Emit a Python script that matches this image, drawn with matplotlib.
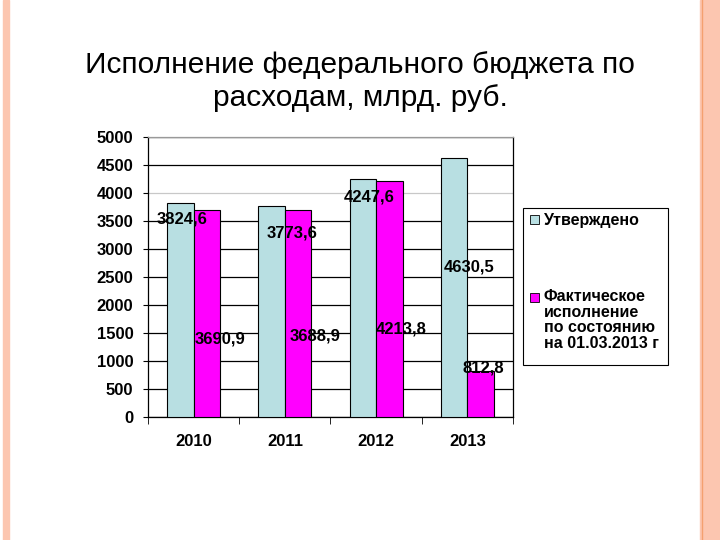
import matplotlib
matplotlib.use("Agg")
import matplotlib.pyplot as plt
from matplotlib.patches import Rectangle
import numpy as np

plt.rcParams["font.family"] = ["Liberation Sans", "DejaVu Sans"]

YEARS    = ["2010", "2011", "2012", "2013"]
APPROVED = [3824.6, 3773.6, 4247.6, 4630.5]
ACTUAL   = [3690.9, 3688.9, 4213.8, 812.8]
LABELS_APPROVED = ["3824,6", "3773,6", "4247,6", "4630,5"]
LABELS_ACTUAL   = ["3690,9", "3688,9", "4213,8", "812,8"]

C_APPROVED = "#b8dfe2"
C_ACTUAL   = "#ff00ff"

# label placement as on the original slide (x offset from category, y in data units)
POS_APPROVED = [(-0.13, 3540), (0.075, 3280), (-0.075, 3920), (0.02, 2685)]
POS_ACTUAL   = [(0.29, 1390), (0.33, 1445), (0.28, 1565), (0.17, 870)]

fig = plt.figure(figsize=(7.2, 5.4), dpi=100)
W, H = 720, 540

# slide border decoration
fig.patches.append(Rectangle((3 / W, 0), 6 / W, 1, transform=fig.transFigure,
                             color="#fcc6b0", zorder=0))
fig.patches.append(Rectangle((700 / W, 0), 20 / W, 1, transform=fig.transFigure,
                             color="#fcc6b0", zorder=0))
fig.add_artist(plt.Line2D([702 / W, 702 / W], [0, 1], color="#f4a070", lw=1))

fig.text(0.5, 1 - 65 / H, "Исполнение федерального бюджета по", ha="center",
         va="center", fontsize=21.5)
fig.text(0.5, 1 - 98 / H, "расходам, млрд. руб.", ha="center",
         va="center", fontsize=21.5)

ax = fig.add_axes([148 / W, 1 - 417 / H, (513 - 148) / W, (417 - 137) / H])
x = np.arange(len(YEARS))
bw = 0.29
ax.bar(x - bw / 2, APPROVED, bw, color=C_APPROVED, edgecolor="black", linewidth=0.8, zorder=3)
ax.bar(x + bw / 2, ACTUAL, bw, color=C_ACTUAL, edgecolor="black", linewidth=0.8, zorder=3)

for i, (dx, yy) in enumerate(POS_APPROVED):
    ax.text(i + dx, yy, LABELS_APPROVED[i], ha="center", va="center",
            fontsize=12, fontweight="bold", zorder=5)
for i, (dx, yy) in enumerate(POS_ACTUAL):
    ax.text(i + dx, yy, LABELS_ACTUAL[i], ha="center", va="center",
            fontsize=12, fontweight="bold", zorder=5)

ax.set_xlim(-0.5, 3.5)
ax.set_ylim(0, 5000)
ax.set_yticks(range(0, 5001, 500))
ax.yaxis.grid(True, color="black", linewidth=0.9, zorder=0)
ax.get_ygridlines()[8].set_color("#c8c8c8")  # the 4000 line is light on the slide
ax.set_axisbelow(True)
ax.tick_params(axis="y", labelsize=12, length=3.6, direction="out", pad=7)
for lab in ax.get_yticklabels():
    lab.set_fontweight("bold")

ax.set_xticks(x)
ax.set_xticklabels(YEARS, fontsize=12, fontweight="bold")
ax.tick_params(axis="x", length=0, pad=12)
ax.set_xticks(np.arange(-0.5, 4.0, 1.0), minor=True)
ax.tick_params(axis="x", which="minor", length=5, direction="out")

ax.spines["top"].set_color("#999999")
ax.spines["right"].set_color("black")
for s in ax.spines.values():
    s.set_linewidth(0.9)

# legend box drawn as on the slide
fig.patches.append(Rectangle((523 / W, 1 - 365 / H), 145 / W, 157 / H,
                             transform=fig.transFigure, facecolor="white",
                             edgecolor="black", linewidth=0.8))
fig.patches.append(Rectangle((530 / W, 1 - 224 / H), 9 / W, 9 / H,
                             transform=fig.transFigure, facecolor=C_APPROVED,
                             edgecolor="black", linewidth=0.6))
fig.patches.append(Rectangle((530 / W, 1 - 302 / H), 9 / W, 9 / H,
                             transform=fig.transFigure, facecolor=C_ACTUAL,
                             edgecolor="black", linewidth=0.6))
fig.text(544 / W, 1 - 220 / H, "Утверждено", fontsize=11.5, fontweight="bold", va="center")
fig.text(544 / W, 1 - 289 / H, "Фактическое\nисполнение\nпо состоянию\nна 01.03.2013 г",
         fontsize=11.5, fontweight="bold", va="top", linespacing=1.05)

fig.savefig("out.png", dpi=100)
